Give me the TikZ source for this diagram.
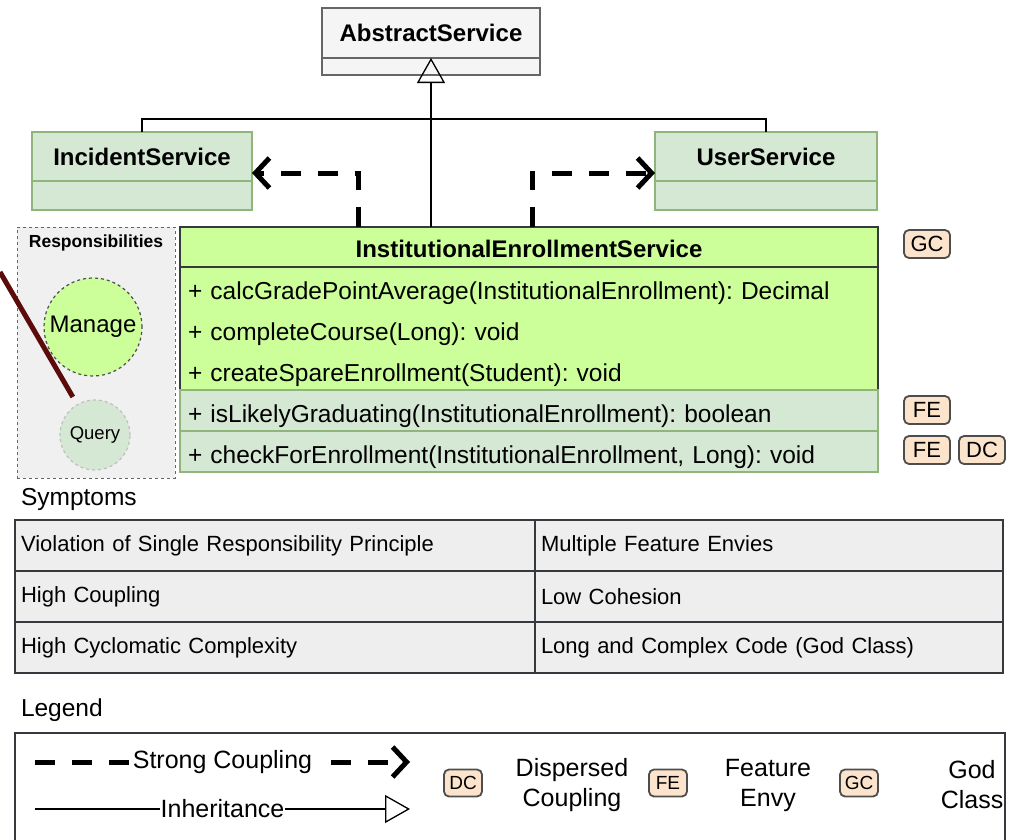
\documentclass[tikz,border=0pt]{standalone}
\usepackage{fontspec}
\setmainfont{Liberation Sans}
\usetikzlibrary{positioning,arrows.meta}

\definecolor{absfill}{HTML}{F5F5F5}
\definecolor{absline}{HTML}{666666}
\definecolor{svcfill}{HTML}{D5E8D4}
\definecolor{svcline}{HTML}{8FB57A}
\definecolor{godfill}{HTML}{CCFF99}
\definecolor{godline}{HTML}{36393D}
\definecolor{badgefill}{HTML}{FBE3CC}
\definecolor{badgeline}{HTML}{4D4D4D}
\definecolor{respfill}{HTML}{F0F0F0}
\definecolor{tablefill}{HTML}{EEEEEE}
\definecolor{darkred}{HTML}{5C0B0B}

\begin{document}
\frenchspacing
\begin{tikzpicture}[
            x = 1pt, y = -1pt, % pixel grid, y pointing down
            every node/.style = {inner sep = 0pt, outer sep = 0pt},
            > = {Straight Barb[length = 14pt, width = 30pt]}, % coupling arrow head
            line join = miter
        ]

        \tikzstyle{classhead}=[
            draw,
            anchor = north west,
            line width = 1.2pt,
            font = \fontsize{24}{28}\selectfont\bfseries
        ]
        \tikzstyle{classbody}=[
            draw,
            line width = 1.2pt
        ]
        \tikzstyle{method}=[
            anchor = north,
            inner xsep = 8pt,
            text width = 682pt,
            align = left,
            minimum height = 41pt,
            text height = 24pt,
            text depth = 0pt,
            font = \fontsize{24.5}{28}\selectfont
        ]
        \tikzstyle{badge}=[
            draw = badgeline,
            fill = badgefill,
            line width = 1.8pt,
            rounded corners = 5pt,
            minimum width = 46pt,
            minimum height = 28pt,
            font = \fontsize{22}{24}\selectfont
        ]
        \tikzstyle{smallbadge}=[
            badge,
            minimum width = 38pt,
            minimum height = 27pt,
            font = \fontsize{19}{22}\selectfont
        ]
        \tikzstyle{duty}=[
            circle,
            draw,
            dashed,
            line width = 1.2pt
        ]
        \tikzstyle{cell}=[
            draw = godline,
            fill = tablefill,
            line width = 1.6pt,
            anchor = north west,
            inner xsep = 6pt,
            align = left,
            minimum height = 51pt,
            font = \fontsize{22}{26}\selectfont
        ]
        \tikzstyle{coupling}=[
            line width = 5pt,
            dash pattern = on 20pt off 17pt
        ]
        \tikzstyle{inherit}=[
            line width = 1.3pt,
            -{Triangle[open, length = 25pt, width = 28pt]}
        ]
        \tikzstyle{legendtext}=[
            align = center,
            font = \fontsize{25}{30}\selectfont
        ]

    \useasboundingbox (0,0) rectangle (1015,839);
    \clip (0,0) rectangle (1015,839);

    % Classes
    \node[classhead, fill = absfill, draw = absline, minimum width = 218pt, minimum height = 50pt] (abs) at (322,8) {AbstractService};
    \node[classbody, fill = absfill, draw = absline, minimum width = 218pt, minimum height = 17pt, below = 0pt of abs] (absbody) {};

    \node[classhead, fill = svcfill, draw = svcline, minimum width = 220pt, minimum height = 49pt] (inc) at (32,132) {IncidentService};
    \node[classbody, fill = svcfill, draw = svcline, minimum width = 220pt, minimum height = 29pt, below = 0pt of inc] (incbody) {};

    \node[classhead, fill = svcfill, draw = svcline, minimum width = 222pt, minimum height = 49pt] (usr) at (655,132) {UserService};
    \node[classbody, fill = svcfill, draw = svcline, minimum width = 222pt, minimum height = 29pt, below = 0pt of usr] (usrbody) {};

    \node[classhead, fill = godfill, draw = godline, minimum width = 698pt, minimum height = 40pt, text height = 20pt, text depth = 0pt] (ies) at (180,227) {InstitutionalEnrollmentService};
    \node[method, fill = godfill, below = 0pt of ies] (m1) {+ calcGradePointAverage(InstitutionalEnrollment): Decimal};
    \node[method, fill = godfill, below = 0pt of m1] (m2) {+ completeCourse(Long): void};
    \node[method, fill = godfill, below = 0pt of m2] (m3) {+ createSpareEnrollment(Student): void};
    \draw[godline, line width = 1.2pt] (m1.north west) rectangle (m3.south east);
    \node[method, fill = svcfill, draw = svcline, line width = 1.2pt, below = 0pt of m3] (m4) {+ isLikelyGraduating(InstitutionalEnrollment): boolean};
    \node[method, fill = svcfill, draw = svcline, line width = 1.2pt, below = 0pt of m4] (m5) {+ checkForEnrollment(InstitutionalEnrollment, Long): void};

    % Smell badges
    \node[badge] (gc) at (927,244) {GC};
    \node[badge] (fe1) at (927,410) {FE};
    \node[badge] (fe2) at (927,450) {FE};
    \node[badge] (dc) at (982,450) {DC};

    % Inheritance and coupling
    \draw[inherit] (ies.north -| abs.south) -- (abs.south);
    \draw[line width = 1.3pt] (inc.north) -- ++(0,-13) -| (usr.north);
    \draw[coupling, ->] ([xshift = 178pt]ies.north west) |- ([yshift = 8pt]inc.south east);
    \draw[coupling, ->] ([xshift = 352pt]ies.north west) |- ([yshift = 8pt]usr.south west);

    % Responsibilities
    \node[draw = absline, fill = respfill, dashed, line width = 1pt, anchor = north west, minimum width = 158pt, minimum height = 251pt] (resp) at (17,227) {};
    \node[font = \fontsize{17.5}{20}\selectfont\bfseries] (resptitle) at (96,243) {Responsibilities};
    \node[duty, fill = godfill, draw = badgeline, minimum size = 98pt, font = \fontsize{24}{28}\selectfont] (mng) at (93,327) {Manage};
    \node[duty, fill = svcfill, draw = black!25, minimum size = 70pt, font = \fontsize{18.5}{20}\selectfont] (qry) at (95,435) {Query};
    \coordinate (offside) at (0,272);
    \draw[darkred, line width = 5pt, shorten > = 9pt] (offside) -- (qry);

    % Symptoms
    \node[anchor = base west, font = \fontsize{24.5}{28}\selectfont] (symtitle) at (21,505) {Symptoms};
    \node[cell, text width = 508pt] (s11) at (15,520) {Violation of Single Responsibility Principle};
    \node[cell, text width = 456pt, right = 0pt of s11] (s12) {Multiple Feature Envies};
    \node[cell, text width = 508pt, below = 0pt of s11.south west, anchor = north west] (s21) {High Coupling};
    \node[cell, text width = 456pt, right = 0pt of s21] (s22) {Low Cohesion};
    \node[cell, text width = 508pt, below = 0pt of s21.south west, anchor = north west] (s31) {High Cyclomatic Complexity};
    \node[cell, text width = 456pt, right = 0pt of s31] (s32) {Long and Complex Code (God Class)};

    % Legend
    \node[anchor = base west, font = \fontsize{24.5}{28}\selectfont] (legtitle) at (21,716) {Legend};
    \node[draw = godline, line width = 1.6pt, anchor = north west, minimum width = 990pt, minimum height = 140pt] (legbox) at (15,733) {};
    \coordinate (cplstart) at (35,762);
    \coordinate (cplend) at (410,762);
    \draw[coupling, ->] (cplstart) -- (cplend) node[midway, fill = white, inner xsep = 2pt, inner ysep = 3pt, font = \fontsize{25}{28}\selectfont] (cpllabel) {Strong Coupling};
    \coordinate (inhstart) at (35,809);
    \coordinate (inhend) at (410,809);
    \draw[inherit] (inhstart) -- (inhend) node[midway, fill = white, inner xsep = 1pt, inner ysep = 3pt, font = \fontsize{25}{28}\selectfont] (inhlabel) {Inheritance};

    \node[smallbadge] (legdc) at (463,783) {DC};
    \node[legendtext] (legdctext) at (572,785) {Dispersed\\Coupling};
    \node[smallbadge] (legfe) at (668,783) {FE};
    \node[legendtext] (legfetext) at (768,785) {Feature\\Envy};
    \node[smallbadge] (leggc) at (859,783) {GC};
    \node[legendtext] (leggctext) at (972,785) {God\\Class};
\end{tikzpicture}
\end{document}
